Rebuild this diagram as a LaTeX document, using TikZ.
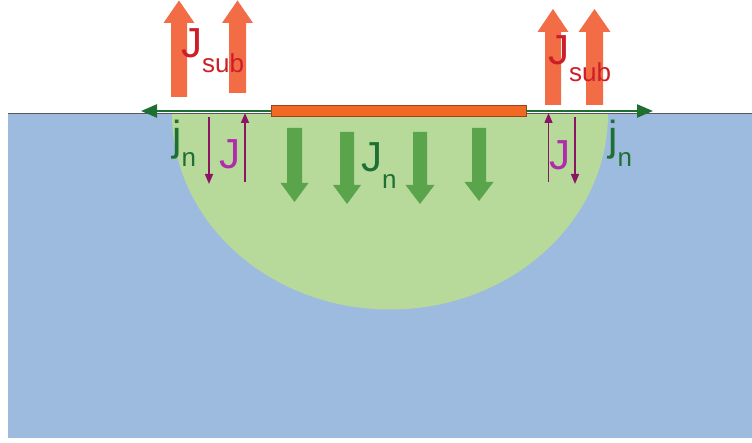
\documentclass[tikz,border=0pt]{standalone}
\usepackage{fontspec}
\setmainfont{Liberation Sans}
\usetikzlibrary{arrows.meta}
\definecolor{bgblue}{RGB}{157,187,222}
\definecolor{regiongreen}{RGB}{183,218,155}
\definecolor{jngreen}{RGB}{90,165,75}
\definecolor{darkgreen}{RGB}{30,112,50}
\definecolor{subarrow}{RGB}{242,108,70}
\definecolor{subred}{RGB}{205,30,40}
\definecolor{gatefill}{RGB}{242,105,35}
\definecolor{gatedraw}{RGB}{150,70,25}
\definecolor{parrowc}{RGB}{140,20,100}
\definecolor{magj}{RGB}{175,45,170}
\newcommand\bigfont{\fontsize{42}{42}\selectfont}
\newcommand\subfont{\fontsize{26}{26}\selectfont}
% #1 colour, #2 centre x, #3 shaft half width, #4 head half width, #5 tail y, #6 head base y, #7 tip y
\newcommand\vArrow[7]{%
  \fill[#1] ({#2-#3},#5) -- ({#2-#3},#6) -- ({#2-#4},#6) -- (#2,#7) -- ({#2+#4},#6) -- ({#2+#3},#6) -- ({#2+#3},#5) -- cycle;}
\begin{document}
\begin{tikzpicture}[x=1pt,y=-1pt,
  lab/.style={anchor=base west, inner sep=0pt, font=\bigfont},
  hline/.style={draw=darkgreen, line width=2.4pt, -{Triangle[length=16pt,width=13pt]}},
  parrow/.style={draw=parrowc, line width=1.5pt, -{Triangle[length=10pt,width=8pt]}},
  gatebox/.style={draw=gatedraw, line width=0.8pt, fill=gatefill, inner sep=0pt, minimum width=255pt, minimum height=11pt}]
\useasboundingbox (0,0) rectangle (752,443);
% substrate
\fill[bgblue] (8,113.5) rectangle (752,437.5);
\begin{scope}
  \clip (8,113.5) rectangle (752,437.5);
  \fill[regiongreen] (390,113.5) ellipse [x radius=218pt, y radius=196pt];
\end{scope}
\draw[gray!70!black, line width=0.8pt] (8,113.5) -- (752,113.5);
% Jn arrows
\vArrow{jngreen}{294.5}{7.5}{14}{128}{183}{202}
\vArrow{jngreen}{347}{7}{14}{132}{185}{204}
\vArrow{jngreen}{420}{7}{14.5}{132}{185}{204}
\vArrow{jngreen}{479}{7}{14.5}{128}{182}{201}
% gate
\node[gatebox] (gate) at (398.5,111) {};
\coordinate (lefttip) at (141,111);
\coordinate (righttip) at (653,111);
\draw[hline] (gate.west) -- (lefttip);
\draw[hline] (gate.east) -- (righttip);
% small J arrows
\coordinate (pl1a) at (209,117); \coordinate (pl1b) at (209,184);
\coordinate (pl2a) at (245,182); \coordinate (pl2b) at (245,113);
\coordinate (pr1a) at (548.5,182); \coordinate (pr1b) at (548.5,113);
\coordinate (pr2a) at (575,117); \coordinate (pr2b) at (575,184);
\draw[parrow] (pl1a) -- (pl1b);
\draw[parrow] (pl2a) -- (pl2b);
\draw[parrow] (pr1a) -- (pr1b);
\draw[parrow] (pr2a) -- (pr2b);
% labels below surface
\node[lab, text=darkgreen] (jnL) at (172,151) {j\raisebox{-16pt}{\subfont n}};
\node[lab, text=darkgreen] (jnR) at (608,151) {j\raisebox{-16pt}{\subfont n}};
\node[lab, text=magj] (JL) at (219,169) {J};
\node[lab, text=magj] (JR) at (549,170) {J};
\node[lab, text=darkgreen] (Jn) at (361,172) {J\raisebox{-17pt}{\subfont n}};
% Jsub arrows
\vArrow{subarrow}{179}{8}{15.5}{97}{23}{0.5}
\vArrow{subarrow}{237.5}{8.5}{15.5}{93}{23}{0.5}
\vArrow{subarrow}{553}{8}{15.5}{105}{32}{9}
\vArrow{subarrow}{594.5}{8.5}{16}{105}{32}{9}
\node[lab, text=subred] (JsubL) at (181,58) {J\raisebox{-15pt}{\subfont sub}};
\node[lab, text=subred] (JsubR) at (548,65) {J\raisebox{-17pt}{\subfont sub}};
\end{tikzpicture}
\end{document}
